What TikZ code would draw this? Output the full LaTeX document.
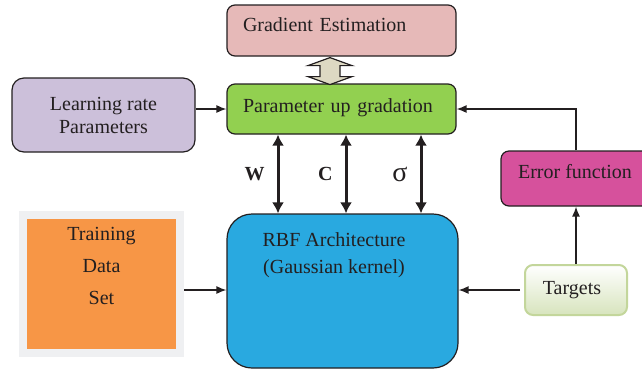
\documentclass[tikz,border=0pt]{standalone}
\usepackage{fontspec}
\setmainfont{Liberation Serif}
\usetikzlibrary{positioning,arrows.meta,calc}
\definecolor{estpink}{HTML}{E6B9B8}
\definecolor{updgreen}{HTML}{92D050}
\definecolor{lrpurple}{HTML}{CCC0DA}
\definecolor{errmag}{HTML}{D6519C}
\definecolor{rbfblue}{HTML}{29A9E0}
\definecolor{setorange}{HTML}{F79646}
\definecolor{setframe}{HTML}{EFF0F2}
\definecolor{tgtgreen}{HTML}{D7E4BD}
\definecolor{tgtline}{HTML}{C3D69B}
\definecolor{fatfill}{HTML}{DDD9C3}
\definecolor{ink}{HTML}{231F20}

\begin{document}
\begin{tikzpicture}[
  x=0.5pt, y=-0.5pt,
  every node/.style={font=\fontsize{10}{12}\selectfont, text=ink},
  box/.style ={draw=ink, line width=0.6pt, rounded corners=4pt, inner sep=0pt},
  est/.style ={box, fill=estpink, text width=98.5pt, align=left, inner xsep=8pt, minimum height=25.5pt,
               text height=7pt, text depth=5.9pt},
  upd/.style ={box, fill=updgreen, text width=98.5pt, align=left, inner xsep=8pt, minimum height=25pt,
               text height=7pt, text depth=3.9pt},
  lrate/.style={box, fill=lrpurple, rounded corners=6pt, align=center, minimum width=91.5pt, minimum height=37pt,
               font=\fontsize{10}{11.5}\selectfont},
  errf/.style={box, fill=errmag, minimum width=75pt, minimum height=27.5pt, text height=7pt, text depth=7.4pt},
  tgt/.style ={draw=tgtline, line width=1pt, rounded corners=4pt, top color=white, bottom color=tgtgreen,
               minimum width=51pt, minimum height=25pt},
  rbf/.style ={box, fill=rbfblue, rounded corners=12.5pt, minimum width=115.5pt, minimum height=77pt},
  dset/.style={draw=setframe, line width=4pt, fill=setorange, minimum width=78.5pt, minimum height=69pt},
  arr/.style ={draw=ink, line width=0.65pt, -{Latex[length=5pt,width=4pt]}},
  thk/.style ={draw=ink, line width=1.5pt, {Latex[length=5.5pt,width=6pt]}-{Latex[length=5.5pt,width=6pt]}},
  lab/.style ={inner sep=0pt, left=6pt},
]
\useasboundingbox (0,0) rectangle (642,371);

% boxes
\node[est]   (grad)  at (341.5,30.5) {Gradient Estimation};
\node[upd]   (param) at (341.5,109)  {Parameter up gradation};
\node[lrate] (learn) at (103.5,115)  {Learning rate\\Parameters};
\node[errf]  (err)   at (576,178.5)  {\hspace*{-1pt}Error function};
\node[tgt]   (tgt)   at (576,290)    {\hspace*{-4pt}Targets};
\node[rbf]   (rbf)   at (342.5,291)  {};
\node[inner sep=0pt, anchor=north, align=center, font=\fontsize{10}{13.5}\selectfont]
  (rbftxt) at (334,232) {RBF Architecture\\(Gaussian kernel)};
\node[dset]  (train) at (101.5,284)  {};
\node[align=center, font=\fontsize{10}{16}\selectfont] (traintxt) at (101.5,266) {Training\\Data\\Set};

% fat two-way arrow
\draw[fill=fatfill, draw=ink, line width=0.6pt]
  ($(grad.south)+(-11.5,1)$) -- ++(22,8) -- ++(-12,0) -- ++(0,11) -- ++(12,0) -- ++(-22,8)
  -- ++(-22,-8) -- ++(12,0) -- ++(0,-11) -- ++(-12,0) -- cycle;

% W, C, sigma
\coordinate (aw) at (278,0);
\coordinate (ac) at (346,0);
\coordinate (as) at (421,0);
\draw[thk] (param.south -| aw) -- node[lab] {\textbf{W}} (rbf.north -| aw);
\draw[thk] (param.south -| ac) -- node[lab] {\textbf{C}} (rbf.north -| ac);
\draw[thk] (param.south -| as) -- node[lab, font=\fontsize{14}{14}\selectfont] {σ} (rbf.north -| as);

% thin connectors
\draw[arr] (learn.east |- param.west) -- (param.west);
\draw[arr] (err.north) |- (param.east);
\draw[arr] (tgt.north) -- (err.south);
\draw[arr, shorten <=2pt] (tgt.west) -- (rbf.east |- tgt.west);
\draw[arr] (train.east |- tgt.west) -- (rbf.west |- tgt.west);
\end{tikzpicture}
\end{document}
